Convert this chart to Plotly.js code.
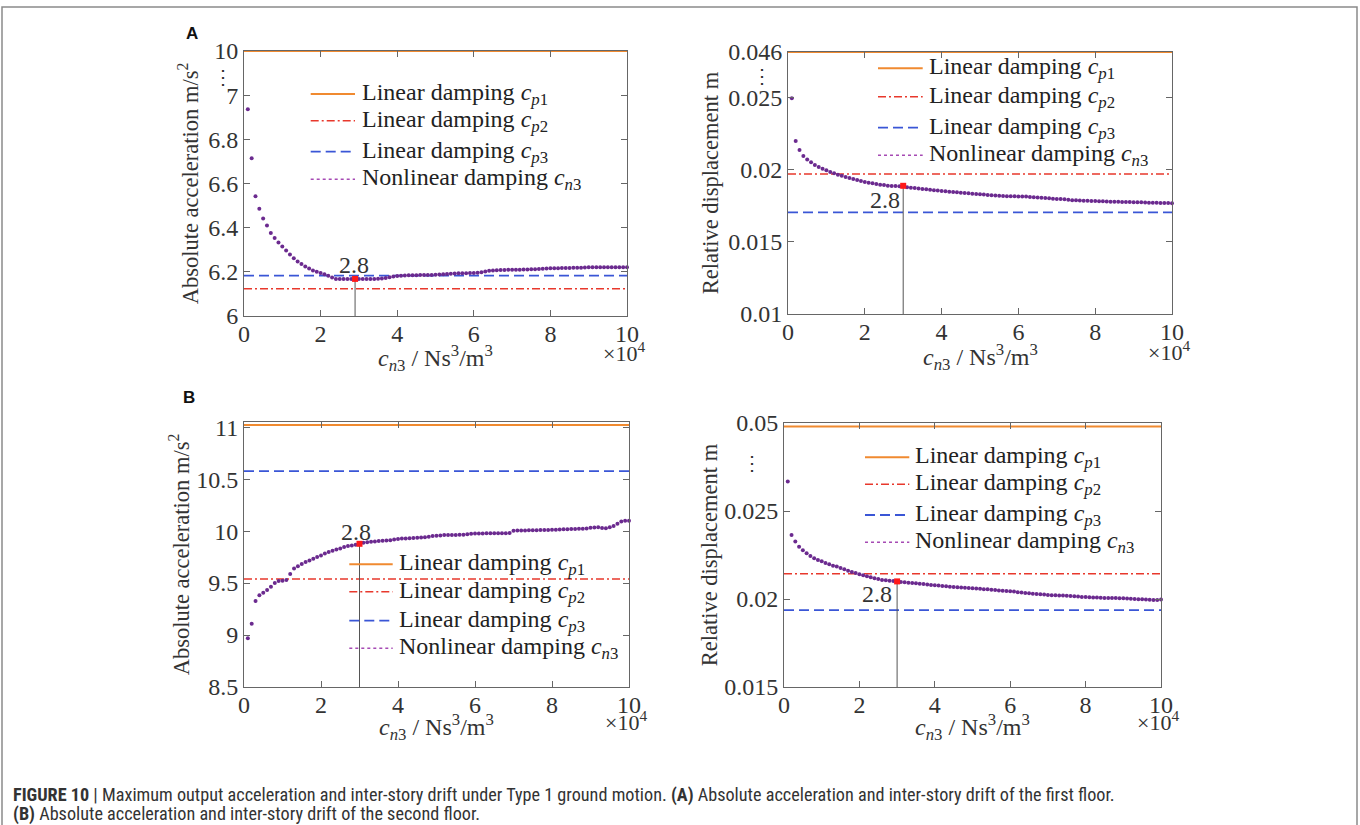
<!DOCTYPE html>
<html>
<head>
<meta charset="utf-8">
<script src="https://cdn.plot.ly/plotly-3.0.1.min.js"></script>
<style>html,body{margin:0;padding:0;background:#fff;}#chart{width:1360px;height:825px;}</style>
</head>
<body>
<div id="chart"></div>
<script>
// ---------------- DATA ----------------
// damping coefficient c_n3 (x 10^4 Ns^3/m^3)
const cn3 = [0.1,0.2,0.3,0.4,0.5,0.6,0.7,0.8,0.9,1.0,1.1,1.2,1.3,1.4,1.5,1.6,1.7,1.8,1.9,2.0,
  2.1,2.2,2.3,2.4,2.5,2.6,2.7,2.8,2.9,3.0,3.1,3.2,3.3,3.4,3.5,3.6,3.7,3.8,3.9,4.0,
  4.1,4.2,4.3,4.4,4.5,4.6,4.7,4.8,4.9,5.0,5.1,5.2,5.3,5.4,5.5,5.6,5.7,5.8,5.9,6.0,
  6.1,6.2,6.3,6.4,6.5,6.6,6.7,6.8,6.9,7.0,7.1,7.2,7.3,7.4,7.5,7.6,7.7,7.8,7.9,8.0,
  8.1,8.2,8.3,8.4,8.5,8.6,8.7,8.8,8.9,9.0,9.1,9.2,9.3,9.4,9.5,9.6,9.7,9.8,9.9,10.0];

// (A) first floor: absolute acceleration (m/s^2), nonlinear damping c_n3
const accFloor1 = [6.936,6.714,6.542,6.486,6.441,6.410,6.376,6.353,6.333,6.315,
  6.297,6.279,6.262,6.247,6.235,6.224,6.215,6.206,6.200,6.195,
  6.189,6.182,6.174,6.168,6.167,6.167,6.167,6.167,6.168,6.168,
  6.168,6.168,6.168,6.168,6.169,6.170,6.172,6.175,6.179,6.181,
  6.182,6.183,6.184,6.185,6.185,6.186,6.186,6.186,6.186,6.187,
  6.188,6.189,6.190,6.191,6.193,6.194,6.194,6.194,6.195,6.195,
  6.196,6.198,6.202,6.205,6.206,6.207,6.208,6.208,6.209,6.209,
  6.210,6.210,6.211,6.211,6.212,6.212,6.213,6.214,6.215,6.216,
  6.216,6.216,6.217,6.217,6.217,6.218,6.218,6.219,6.220,6.221,
  6.221,6.221,6.221,6.221,6.221,6.221,6.221,6.221,6.221,6.221];

// (A) first floor: relative displacement (m), nonlinear damping c_n3
const driftFloor1 = [0.02498,0.02201,0.02139,0.02097,0.02072,0.02053,0.02035,0.02021,0.02009,0.01998,
  0.01986,0.01977,0.01967,0.01960,0.01951,0.01944,0.01938,0.01931,0.01924,0.01917,
  0.01912,0.01908,0.01903,0.01898,0.01896,0.01891,0.01889,0.01888,0.01887,0.01890,
  0.01880,0.01877,0.01874,0.01871,0.01868,0.01866,0.01863,0.01860,0.01857,0.01854,
  0.01852,0.01849,0.01847,0.01845,0.01842,0.01840,0.01838,0.01835,0.01833,0.01831,
  0.01829,0.01827,0.01825,0.01823,0.01821,0.01819,0.01818,0.01818,0.01817,0.01816,
  0.01816,0.01815,0.01813,0.01811,0.01809,0.01807,0.01805,0.01803,0.01801,0.01799,
  0.01798,0.01797,0.01793,0.01790,0.01789,0.01788,0.01787,0.01786,0.01785,0.01784,
  0.01783,0.01782,0.01781,0.01780,0.01779,0.01779,0.01778,0.01777,0.01777,0.01776,
  0.01775,0.01775,0.01774,0.01773,0.01772,0.01772,0.01771,0.01770,0.01770,0.01769];

// (B) second floor: absolute acceleration (m/s^2), nonlinear damping c_n3
const accFloor2 = [8.968,9.109,9.327,9.382,9.407,9.433,9.465,9.500,9.519,9.522,
  9.529,9.587,9.641,9.663,9.683,9.702,9.718,9.734,9.750,9.766,
  9.785,9.798,9.811,9.824,9.833,9.846,9.856,9.862,9.868,9.878,
  9.888,9.894,9.897,9.900,9.904,9.907,9.910,9.913,9.920,9.923,
  9.929,9.930,9.932,9.934,9.936,9.938,9.942,9.947,9.952,9.955,
  9.958,9.962,9.962,9.963,9.963,9.964,9.966,9.970,9.975,9.978,
  9.978,9.978,9.979,9.979,9.979,9.980,9.980,9.980,9.981,10.003,
  10.005,10.006,10.007,10.008,10.009,10.009,10.010,10.010,10.011,10.012,
  10.013,10.015,10.019,10.019,10.020,10.021,10.022,10.023,10.025,10.032,
  10.036,10.038,10.030,10.028,10.038,10.050,10.070,10.092,10.100,10.100];

// (B) second floor: relative displacement (m), nonlinear damping c_n3
const driftFloor2 = [0.02667,0.02364,0.02326,0.02297,0.02277,0.02260,0.02244,0.02231,0.02222,0.02214,
  0.02205,0.02197,0.02189,0.02184,0.02176,0.02169,0.02161,0.02153,0.02148,0.02140,
  0.02135,0.02129,0.02123,0.02118,0.02114,0.02108,0.02106,0.02104,0.02102,0.02100,
  0.02097,0.02095,0.02093,0.02091,0.02089,0.02087,0.02085,0.02082,0.02080,0.02078,
  0.02076,0.02074,0.02072,0.02070,0.02068,0.02067,0.02065,0.02064,0.02062,0.02061,
  0.02059,0.02058,0.02056,0.02055,0.02053,0.02051,0.02049,0.02047,0.02046,0.02044,
  0.02042,0.02039,0.02037,0.02034,0.02032,0.02030,0.02028,0.02027,0.02025,0.02023,
  0.02022,0.02021,0.02020,0.02020,0.02019,0.02017,0.02015,0.02014,0.02012,0.02011,
  0.02010,0.02009,0.02008,0.02007,0.02006,0.02006,0.02005,0.02005,0.02004,0.02004,
  0.02003,0.02002,0.02000,0.01999,0.01998,0.01997,0.01996,0.01995,0.01994,0.01997];

// linear damping results [c_p1, c_p2, c_p3]
const linearAccFloor1   = [10, 6.123, 6.183];
const linearDriftFloor1 = [0.046, 0.01972, 0.01706];
const linearAccFloor2   = [11.02, 9.54, 10.577];
const linearDriftFloor2 = [0.0498, 0.02144, 0.01937];

// selected (optimal) c_n3 value, labelled "2.8"
const optimalX = [2.9, 3.0, 3.0, 3.0];
const optimalLabel = '2.8';

// axis ticks (true values) and axis breaks [from, to]
const xTicks = [0, 2, 4, 6, 8, 10];
const yTicksAccFloor1   = [6, 6.2, 6.4, 6.6, 6.8, 7, 10];
const yTicksDriftFloor1 = [0.01, 0.015, 0.02, 0.025, 0.046];
const yTicksAccFloor2   = [8.5, 9, 9.5, 10, 10.5, 11];
const yTicksDriftFloor2 = [0.015, 0.02, 0.025, 0.05];
const yRangeAccFloor1   = [6, 10];
const yRangeDriftFloor1 = [0.01, 0.046];
const yRangeAccFloor2   = [8.5, 11.05];
const yRangeDriftFloor2 = [0.015, 0.05];
const breakAccFloor1   = [7.08, 9.88];
const breakDriftFloor1 = [0.0265, 0.04431];
const breakDriftFloor2 = [0.0277, 0.0477];

const legendLabels = [
  'Linear damping <i>c</i><sub><i>p</i>1</sub>',
  'Linear damping <i>c</i><sub><i>p</i>2</sub>',
  'Linear damping <i>c</i><sub><i>p</i>3</sub>',
  'Nonlinear damping <i>c</i><sub><i>n</i>3</sub>'
];
const xTitle = '<i>c</i><sub><i>n</i>3</sub> / Ns<sup>3</sup>/m<sup>3</sup>';
const yTitles = ['Absolute acceleration m/s<sup>2</sup>', 'Relative displacement m',
                 'Absolute acceleration m/s<sup>2</sup>', 'Relative displacement m'];

// ---------------- STYLE / LAYOUT ----------------
const W = 1360, H = 825;
const SERIF = 'Liberation Serif, Times New Roman, serif';
const colors = {cp1:'#F08A30', cp2:'#E8382C', cp3:'#3A56D6', cn3:'#6B2A8F', cn3line:'#A64AB4', opt:'#FF1A1A'};
const dashes = {cp1:'solid', cp2:'8px,3px,2px,3px', cp3:'10px,5px', cn3:'dot'};
const lineWidths = {cp1:2, cp2:1.5, cp3:1.8};
const px = x => x / W;
const py = y => 1 - y / H;

function disp(v, brk) {
  if (brk && v >= brk[1]) return v - (brk[1] - brk[0]);
  return v;
}

const panels = [
  {series: accFloor1, linear: linearAccFloor1, ticks: yTicksAccFloor1, range: yRangeAccFloor1, brk: breakAccFloor1,
   box: [244, 627, 51, 316], ystand: 3, xtY: 358, mulY: 352,
   leg: {x0: 310.7, x1: 355, tx: 360, rows: [94, 120.7, 151.7, 179.3]}, lab: [-1, 14], dotsShift: -21},
  {series: driftFloor1, linear: linearDriftFloor1, ticks: yTicksDriftFloor1, range: yRangeDriftFloor1, brk: breakDriftFloor1,
   box: [788, 1172, 52, 314], ystand: 3, xtY: 357, mulY: 351,
   leg: {x0: 878, x1: 922.7, tx: 926.7, rows: [68.3, 96.7, 127.7, 155.3]}, lab: [-18, -14], dotsShift: -26},
  {series: accFloor2, linear: linearAccFloor2, ticks: yTicksAccFloor2, range: yRangeAccFloor2, brk: null,
   box: [244, 629, 422, 687], ystand: 0, xtY: 727, mulY: 721,
   leg: {x0: 349.3, x1: 392.7, tx: 397.3, rows: [564.3, 591.7, 620.7, 648.3]}, lab: [-4, 12], dotsShift: 0},
  {series: driftFloor2, linear: linearDriftFloor2, ticks: yTicksDriftFloor2, range: yRangeDriftFloor2, brk: breakDriftFloor2,
   box: [784, 1161, 423, 687], ystand: 0, xtY: 727, mulY: 721,
   leg: {x0: 865, x1: 909.3, tx: 913.3, rows: [457.3, 484.3, 515, 542.3]}, lab: [-20, -13], dotsShift: -32}
];

const traces = [];
const layout = {
  width: W, height: H,
  margin: {l: 0, r: 0, t: 0, b: 0},
  paper_bgcolor: '#fff', plot_bgcolor: '#fff',
  showlegend: false,
  font: {family: SERIF, color: '#333'},
  annotations: [], shapes: []
};

panels.forEach((p, i) => {
  const n = i === 0 ? '' : String(i + 1);
  const xa = 'x' + n, ya = 'y' + n;
  const b = p.brk;
  const yr = p.range.map(v => disp(v, b));
  const xr = [0, 10];
  const keys = ['cp1', 'cp2', 'cp3'];
  // horizontal linear-damping lines
  p.linear.forEach((v, k) => {
    traces.push({x: [xr[0], xr[1]], y: [disp(v, b), disp(v, b)], xaxis: xa, yaxis: ya, mode: 'lines',
      name: legendLabels[k], line: {color: colors[keys[k]], dash: dashes[keys[k]], width: lineWidths[keys[k]]},
      hoverinfo: 'skip', cliponaxis: false});
  });
  // nonlinear damping series
  traces.push({x: cn3, y: p.series.map(v => disp(v, b)), xaxis: xa, yaxis: ya, mode: 'markers',
    name: legendLabels[3], marker: {color: colors.cn3, size: 4}, cliponaxis: false});
  // optimal point + vertical line
  const ox = optimalX[i];
  const oi = cn3.indexOf(ox);
  const oy = disp(p.series[oi], b);
  traces.push({x: [ox, ox], y: [yr[0], oy], xaxis: xa, yaxis: ya, mode: 'lines', line: {color: '#555', width: 1}, hoverinfo: 'skip'});
  traces.push({x: [ox], y: [oy], xaxis: xa, yaxis: ya, mode: 'markers', marker: {color: colors.opt, size: 6, symbol: 'square'}});
  layout.annotations.push({x: ox, y: oy, xref: xa, yref: ya, text: optimalLabel, showarrow: false,
    xanchor: 'center', yanchor: 'middle',
    xshift: p.lab[0], yshift: p.lab[1], font: {family: SERIF, size: 24, color: '#333'}});

  const axBase = {showline: true, linecolor: '#666', linewidth: 1, mirror: 'ticks', ticks: 'inside', ticklen: 6,
    tickcolor: '#666', tickwidth: 1, showgrid: false, zeroline: false, automargin: false,
    tickfont: {family: SERIF, size: 24, color: '#333'}};
  const [L, R, T, B] = p.box;
  layout['xaxis' + n] = Object.assign({}, axBase, {
    domain: [px(L), px(R)], range: xr, anchor: ya, tickvals: xTicks, ticktext: xTicks.map(String),
    ticklabelstandoff: -4
  });
  layout['yaxis' + n] = Object.assign({}, axBase, {
    domain: [py(B), py(T)], range: yr, anchor: xa,
    tickvals: p.ticks.map(v => disp(v, b)), ticktext: p.ticks.map(String),
    title: {text: yTitles[i], font: {family: SERIF, size: 22.5, color: '#333'}, standoff: p.ystand}
  });
  // x-axis title
  layout.annotations.push({xref: 'paper', yref: 'paper', x: px((L + R) / 2), y: py(p.xtY), xanchor: 'center', yanchor: 'middle',
    text: xTitle, showarrow: false, font: {family: SERIF, size: 24, color: '#333'}});
  // x10^4 multiplier
  layout.annotations.push({xref: 'paper', yref: 'paper', x: px(R - 3), y: py(p.mulY), xanchor: 'center', yanchor: 'middle',
    text: '×10<sup>4</sup>', showarrow: false, font: {family: SERIF, size: 22, color: '#333'}});
  // axis break marker
  if (b) {
    layout.annotations.push({xref: xa + ' domain', yref: ya, x: 0, y: b[0], xanchor: 'center', yanchor: 'middle',
      xshift: p.dotsShift, text: '⋮', showarrow: false, font: {family: SERIF, size: 20, color: '#333'}});
  }
  // legend (one per panel)
  const lg = p.leg;
  const legKeys = ['cp1', 'cp2', 'cp3', 'cn3'];
  lg.rows.forEach((ry, k) => {
    const key = legKeys[k];
    layout.shapes.push({type: 'line', xref: 'paper', yref: 'paper', x0: px(lg.x0), x1: px(lg.x1), y0: py(ry), y1: py(ry),
      line: {color: key === 'cn3' ? colors.cn3line : colors[key], dash: dashes[key], width: key === 'cn3' ? 1.6 : lineWidths[key]}});
    layout.annotations.push({xref: 'paper', yref: 'paper', x: px(lg.tx), y: py(ry), xanchor: 'left', yanchor: 'middle',
      text: legendLabels[k], showarrow: false, font: {family: SERIF, size: 24, color: '#222'}});
  });
});

// panel letters
layout.annotations.push({xref: 'paper', yref: 'paper', x: px(192), y: py(33), xanchor: 'center', yanchor: 'middle',
  text: '<b>A</b>', showarrow: false, font: {family: 'Liberation Sans', size: 17, color: '#111'}});
layout.annotations.push({xref: 'paper', yref: 'paper', x: px(189), y: py(397), xanchor: 'center', yanchor: 'middle',
  text: '<b>B</b>', showarrow: false, font: {family: 'Liberation Sans', size: 17, color: '#111'}});

// caption
const CAP = 'Liberation Sans Narrow, Arial Narrow, Roboto Condensed, DejaVu Sans Condensed, sans-serif';
layout.annotations.push({xref: 'paper', yref: 'paper', x: px(11), y: py(795), xanchor: 'left', yanchor: 'middle', showarrow: false,
  text: '<b>FIGURE 10</b> | Maximum output acceleration and inter-story drift under Type 1 ground motion. <b>(A)</b> Absolute acceleration and inter-story drift of the first floor.',
  font: {family: CAP, size: 18.2, color: '#333'}});
layout.annotations.push({xref: 'paper', yref: 'paper', x: px(11), y: py(814), xanchor: 'left', yanchor: 'middle', showarrow: false,
  text: '<b>(B)</b> Absolute acceleration and inter-story drift of the second floor.',
  font: {family: CAP, size: 18.2, color: '#333'}});

// figure frame
layout.shapes.push({type: 'rect', xref: 'paper', yref: 'paper', x0: px(2), x1: px(1357), y0: -0.05, y1: py(7),
  line: {color: '#8a8a8a', width: 1.5}, fillcolor: 'rgba(0,0,0,0)', layer: 'below'});

Plotly.newPlot('chart', traces, layout, {staticPlot: true, displayModeBar: false});
</script>
</body>
</html>
